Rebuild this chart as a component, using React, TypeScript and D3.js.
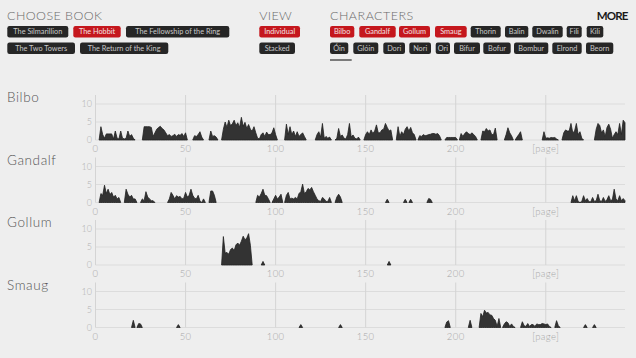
import React from 'react';
import * as d3 from 'd3';

const W = 636;
const H = 358;

// ---------- data ----------
const pageTicks = [0, 50, 100, 150, 200, 250];
const pageTickLabels = ['0', '50', '100', '150', '200', '[page]'];
const countTicks = [0, 5, 10];
const pageMax = 294;
const countMax = 12.5;

const bookLabels = ['The Silmarillion', 'The Hobbit', 'The Fellowship of the Ring', 'The Two Towers', 'The Return of the King'];
const selectedBook = 'The Hobbit';
const viewLabels = ['Individual', 'Stacked'];
const selectedView = 'Individual';
const characterRow1 = ['Bilbo', 'Gandalf', 'Gollum', 'Smaug', 'Thorin', 'Balin', 'Dwalin', 'Fili', 'Kili'];
const characterRow2 = ['Óin', 'Glóin', 'Dori', 'Nori', 'Ori', 'Bifur', 'Bofur', 'Bombur', 'Elrond', 'Beorn'];
const shownCharacters = ['Bilbo', 'Gandalf', 'Gollum', 'Smaug'];

// segments: [first page, mentions per page ...]
const bilboSegments: [number, number[]][] = [
  [2, [0, 3.7, 1.5, 0.5, 1.7, 1.7, 1.7, 1.7, 0.3, 2.5, 0.5, 0.3, 2.5, 0.5, 0.3, 0.5, 2.5, 1, 1.5, 0.5, 0]],
  [26, [0, 3.7, 3.7, 3.7, 3.7, 3.5, 1, 2, 3, 3.5, 3.8, 3.2, 2.8, 2, 1.2, 1.5, 1, 1.2, 1.6, 1, 1.5, 1.3, 1.8, 1, 2, 0]],
  [54, [0, 1.2, 1, 1.5, 2.3, 0.8, 0]],
  [63, [0, 2.5, 1, 1.2, 0.8, 0]],
  [70, [0, 3, 5, 3.5, 5.5, 4, 4.5, 5.5, 4, 4.8, 3.5, 6.3, 3.8, 4.9, 3.2, 4.3, 3, 2.5, 3.7, 2, 0.5, 0.3, 1.5, 2, 1, 2.2, 1.5, 1.5, 2, 3.4, 1.5, 0]],
  [105, [0, 4.4, 1.5, 3.7, 1.5, 2.5, 1, 2.3, 1, 1.5, 2, 1, 0]],
  [122, [0, 1.5, 2.3, 0.8, 4.6, 0.5, 1, 0.5, 0.8, 0]],
  [133, [0, 0.5, 3.2, 1, 1.4, 0.5, 0.3, 1.5, 4.6, 0.8, 1.4, 0.5, 0.3, 0.8, 0]],
  [149, [0, 1.5, 2.3, 1.5, 2.8, 1.8, 2.5, 4.2, 2, 2, 2.8, 3, 4.6, 3.5, 2.5, 2.8, 0]],
  [167, [0, 3.7, 1, 2.3, 1.5, 3, 3.7, 2.5, 3.5, 2, 1.5, 0]],
  [179, [0, 1.2, 1, 1.5, 1.2, 1.3, 1.5, 1.6, 1.8, 1.8, 1.6, 1.8, 1.2, 0]],
  [194, [0, 0.7, 0.7, 0.7, 0.7, 0.7, 0.7, 0]],
  [202, [0, 1.8, 1, 1.8, 2.3, 1.8, 1.5, 2, 1.5, 1, 0]],
  [214, [0, 2.5, 2.3, 3.2, 2.5, 2.8, 1.5, 1.5, 3.3, 0]],
  [227, [0, 1.5, 3.4, 2, 1.2, 0]],
  [233, [0, 0.8, 1.5, 2.3, 0]],
  [248, [0, 2.3, 0.5, 0.6, 0.5, 0.7, 0.6, 0.7, 0.3, 0]],
  [259, [0, 2, 2.8, 2.5, 2.5, 4.6, 2, 2.5, 4.6, 1.5, 2.3, 0.5, 0]],
  [277, [0, 3, 4.6, 4, 2, 2.8, 1, 3.5, 4.4, 3, 0.5, 1.5, 2.3, 1.5, 4.6, 1.5, 5.5, 4.8]],
];

const gandalfSegments: [number, number[]][] = [
  [2, [0, 2.5, 2, 4.8, 2.5, 3.7, 2.2, 2.8, 1.5, 2, 1, 1.4, 0]],
  [16, [0, 3.7, 2.3, 1.5, 2, 1, 1, 0]],
  [25, [0, 1, 0.5, 3, 1.5, 1, 0.5, 0.5, 0]],
  [40, [0, 1, 2.8, 2, 1, 1.9, 1.5, 1.7, 1, 1.2, 2.8, 1.5, 2, 3.7, 2, 1.2, 1, 2, 0.5, 0, 1, 0]],
  [63, [0, 3.2, 3.2, 2, 0]],
  [89, [0, 2, 1.5, 2.5, 3.7, 2, 1.9, 1, 0]],
  [98, [0, 1, 2, 1, 1.5, 2.3, 0]],
  [105, [0, 2, 2.8, 1, 1.2, 1, 1.4, 1, 2.5, 3, 5.1, 2.5, 3, 3.9, 3.5, 4.2, 3, 2, 1, 0.5, 0.3, 1.4, 1, 0.3, 0.3, 1.4, 0]],
  [133, [0, 1.5, 2.3, 1.5, 0]],
  [161, [0, 0.9, 0]],
  [171, [0, 0.9, 0]],
  [174, [0, 0.9, 0]],
  [184, [0, 1.1, 0.9, 0]],
  [264, [0, 1.9, 0.5, 1.9, 0.3, 0, 0.3, 1.9, 0.5, 1.1, 0.2, 0.2, 1.4, 0.3, 0.5, 2.3, 0.5, 0.3, 1.4, 0.3, 0.8, 1.9, 0.5, 0.8, 3.7, 1, 0.5, 1.9, 0.5, 1.1, 0.5]],
];

const gollumSegments: [number, number[]][] = [
  [70, [0, 7.9, 3.3, 3.5, 3, 4.3, 4.7, 4, 5.6, 6.1, 5.5, 6.6, 8, 7, 7.5, 8.7, 5.5, 0]],
  [92, [0, 1, 0]],
  [162, [0, 1, 0]],
];

const smaugSegments: [number, number[]][] = [
  [20, [0, 2, 0]],
  [23, [0, 1.1, 1, 0]],
  [45, [0, 0.8, 0]],
  [113, [0, 0.8, 0]],
  [135, [0, 0.8, 0]],
  [194, [0, 1.5, 1.9, 0]],
  [207, [0, 2, 0]],
  [213, [0, 3.9, 3, 4.8, 4, 4.2, 3.5, 3.4, 2.5, 2, 0.3, 2.5, 0]],
  [226, [0, 1, 1.6, 1.3, 0.3, 1, 0.3, 0]],
  [236, [0, 1.6, 0.5, 0.3, 1.1, 0.3, 0.8, 0.8, 0.3, 1, 0.8, 0.8, 1.1, 1, 0.8, 1, 0.3, 0]],
  [255, [0, 1.9, 0.5, 0]],
  [271, [0, 0.8, 0]],
  [276, [0, 0.8, 0]],
];

const seriesByCharacter: Record<string, [number, number[]][]> = {
  Bilbo: bilboSegments,
  Gandalf: gandalfSegments,
  Gollum: gollumSegments,
  Smaug: smaugSegments,
};

// ---------- layout (not data) ----------
const bookBoxes = [
  { x: 7.3, y: 26, w: 61 },
  { x: 73.3, y: 26, w: 47.4 },
  { x: 126, y: 26, w: 103.3 },
  { x: 7.3, y: 42.5, w: 67.7 },
  { x: 80, y: 42.5, w: 88.3 },
];
const viewBoxes = [
  { x: 259.3, y: 26, w: 40.7 },
  { x: 259.3, y: 42.5, w: 35.7 },
];
const row1X = [330, 359.3, 399, 435, 470.7, 505, 532.3, 566.7, 586.7];
const row1W = [24.3, 36.4, 31, 31.7, 30, 23.3, 30.4, 15, 16.6];
const row2X = [330, 353.3, 383.3, 409.3, 435.7, 454, 483.3, 514, 552.3, 586];
const row2W = [18.3, 25, 21.7, 21.7, 14.3, 26, 27.4, 34.3, 29.4, 27.3];

const FONT = "Lato, 'Open Sans', 'DejaVu Sans', sans-serif";
const RED = '#c5171d';
const DARK = '#262626';
const BTN_H = 11.5;

const firstZero = 140;
const chartStep = 62.5;
const chartHeight = 45;

const x = d3.scaleLinear().domain([0, pageMax]).range([95.5, 625]);

function Button({ bx, by, w, label, active }: { bx: number; by: number; w: number; label: string; active: boolean }) {
  return (
    <g>
      <rect x={bx} y={by} width={w} height={BTN_H} rx={2.2} fill={active ? RED : DARK} />
      <text
        x={bx + w / 2}
        y={by + BTN_H / 2 + 2.6}
        textAnchor="middle"
        fontSize={7.3}
        fill={active ? '#f3e3e3' : '#c9c9c9'}
        fontFamily={FONT}
      >
        {label}
      </text>
    </g>
  );
}

function Chart({ name, index }: { name: string; index: number }) {
  const zero = firstZero + index * chartStep;
  const y = d3.scaleLinear().domain([0, countMax]).range([zero, zero - chartHeight]);
  const area = d3
    .area<[number, number]>()
    .x((d) => x(d[0]))
    .y0(y(0))
    .y1((d) => y(d[1]))
    .curve(d3.curveLinear);
  const segs = seriesByCharacter[name] || [];
  return (
    <g>
      <text x={7} y={zero - 38} fontSize={13.5} fill="#555" fontFamily={FONT} fontWeight={300} letterSpacing={0.6}>
        {name}
      </text>
      {countTicks.map((t) => (
        <line key={'h' + t} x1={x(0)} x2={x(pageMax)} y1={y(t)} y2={y(t)} stroke="#dcdcdc" strokeWidth={1} />
      ))}
      {pageTicks.map((t) => (
        <line key={'v' + t} x1={x(t)} x2={x(t)} y1={y(countMax)} y2={y(0)} stroke="#d4d4d4" strokeWidth={1} />
      ))}
      {countTicks.map((t) => (
        <text key={'yl' + t} x={92} y={y(t) + 3} textAnchor="end" fontSize={9} fill="#b0b0b0" fontFamily={FONT} fontWeight={300}>
          {t}
        </text>
      ))}
      {pageTicks.map((t, i) => (
        <text key={'xl' + t} x={x(t)} y={zero + 12} textAnchor="middle" fontSize={9.5} fill="#a8a8a8" fontFamily={FONT} fontWeight={300} letterSpacing={0.4}>
          {pageTickLabels[i]}
        </text>
      ))}
      {segs.map(([start, vals], i) => {
        const pts = vals.map((v, k) => [start + k, v] as [number, number]);
        return <path key={i} d={area(pts) || ''} fill="#333" stroke="#222" strokeWidth={0.8} strokeLinejoin="round" />;
      })}
    </g>
  );
}

export default function App() {
  return (
    <svg
      width={W}
      height={H}
      viewBox={`0 0 ${W} ${H}`}
      style={{ position: 'fixed', left: 0, top: 0, display: 'block' }}
    >
      <rect x={0} y={0} width={W} height={H} fill="#eeeeee" />

      <text x={7} y={20} fontSize={12.5} fill="#6a6a6a" fontFamily={FONT} fontWeight={300} textLength={95} lengthAdjust="spacing">
        CHOOSE BOOK
      </text>
      <text x={259.3} y={20} fontSize={12.5} fill="#6a6a6a" fontFamily={FONT} fontWeight={300} textLength={32.4} lengthAdjust="spacing">
        VIEW
      </text>
      <text x={330} y={20} fontSize={12.5} fill="#6a6a6a" fontFamily={FONT} fontWeight={300} textLength={83.3} lengthAdjust="spacing">
        CHARACTERS
      </text>
      <text x={596.7} y={19.5} fontSize={11.5} fill="#1a1a1a" fontFamily={FONT} fontWeight={700} textLength={31.6} lengthAdjust="spacing">
        MORE
      </text>

      {bookLabels.map((b, i) => (
        <Button key={b} bx={bookBoxes[i].x} by={bookBoxes[i].y} w={bookBoxes[i].w} label={b} active={b === selectedBook} />
      ))}
      {viewLabels.map((v, i) => (
        <Button key={v} bx={viewBoxes[i].x} by={viewBoxes[i].y} w={viewBoxes[i].w} label={v} active={v === selectedView} />
      ))}
      {characterRow1.map((c, i) => (
        <Button key={c} bx={row1X[i]} by={26} w={row1W[i]} label={c} active={shownCharacters.includes(c)} />
      ))}
      {characterRow2.map((c, i) => (
        <Button key={c} bx={row2X[i]} by={42.5} w={row2W[i]} label={c} active={shownCharacters.includes(c)} />
      ))}
      <line x1={330} x2={351.7} y1={60} y2={60} stroke="#555" strokeWidth={1.5} />

      {shownCharacters.map((n, i) => (
        <Chart key={n} name={n} index={i} />
      ))}
    </svg>
  );
}
